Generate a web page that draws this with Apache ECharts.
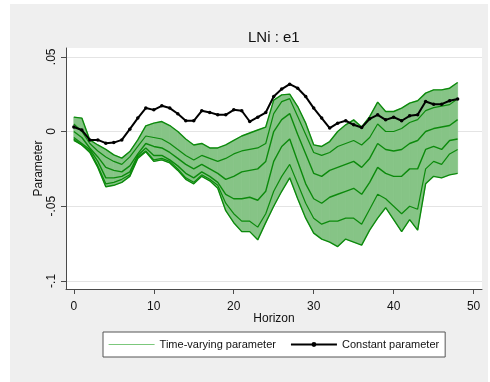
<!DOCTYPE html>
<html><head><meta charset="utf-8">
<script src="https://cdn.jsdelivr.net/npm/echarts@6/dist/echarts.min.js"></script>
<style>
html,body{margin:0;padding:0;background:#fff;}
#panel{position:absolute;left:10px;top:4px;width:478px;height:378px;background:#efefef;}
#c{position:absolute;left:0;top:0;width:490px;height:382px;}
</style>
</head><body><div id="panel"></div><div id="c"></div>
<script>
const titleText = 'LNi : e1';
const xTicks = [0, 10, 20, 30, 40, 50];
const yTicks = [-0.1, -0.05, 0, 0.05];
const yTickLabels = ['-.1', '-.05', '0', '.05'];
const horizon = [0,1,2,3,4,5,6,7,8,9,10,11,12,13,14,15,16,17,18,19,20,21,22,23,24,25,26,27,28,29,30,31,32,33,34,35,36,37,38,39,40,41,42,43,44,45,46,47,48];
const constantParam = [0.003,0.001,-0.0056,-0.0056,-0.0078,-0.0074,-0.0056,0.0016,0.009,0.0157,0.0145,0.0172,0.0157,0.0119,0.0072,0.0072,0.0139,0.0128,0.0112,0.0112,0.0145,0.0139,0.0067,0.0096,0.0127,0.0234,0.0284,0.0317,0.029,0.0234,0.0157,0.009,0.0023,0.0056,0.0072,0.0045,0.0027,0.0085,0.0112,0.0078,0.0096,0.0072,0.0105,0.0112,0.0201,0.0183,0.0183,0.0206,0.0217];
const upperEnv = [0.0096,0.009,-0.0056,-0.009,-0.012,-0.0156,-0.0178,-0.0134,-0.0056,0.0038,0.0056,0.0067,0.004,0.0,-0.005,-0.009,-0.008,-0.011,-0.011,-0.009,-0.006,-0.003,-0.001,0.001,0.003,0.021,0.0245,0.025,0.0167,0.0056,-0.0089,-0.01,-0.0067,0.0,0.0045,0.0078,0.003,0.01,0.0197,0.0134,0.0134,0.0157,0.019,0.0206,0.0257,0.0279,0.0279,0.029,0.0328];
const lowerEnv = [-0.006,-0.009,-0.014,-0.024,-0.037,-0.036,-0.034,-0.03,-0.018,-0.0135,-0.02,-0.019,-0.021,-0.026,-0.032,-0.035,-0.03,-0.033,-0.038,-0.053,-0.061,-0.067,-0.067,-0.0725,-0.061,-0.05,-0.04,-0.031,-0.045,-0.058,-0.068,-0.072,-0.074,-0.077,-0.072,-0.074,-0.076,-0.066,-0.058,-0.051,-0.059,-0.067,-0.059,-0.066,-0.035,-0.03,-0.031,-0.029,-0.028];
const traceA = [0.005,0.0,-0.008,-0.013,-0.017,-0.02,-0.022,-0.017,-0.01,-0.003,-0.004,-0.005,-0.008,-0.012,-0.016,-0.019,-0.016,-0.018,-0.02,-0.018,-0.015,-0.013,-0.012,-0.011,-0.008,0.012,0.02,0.022,0.01,-0.002,-0.014,-0.016,-0.014,-0.01,-0.008,-0.006,-0.009,-0.004,0.005,0.0,0.0,0.002,0.006,0.008,0.014,0.016,0.017,0.018,0.022];
const traceB = [0.0,-0.004,-0.011,-0.017,-0.024,-0.026,-0.027,-0.023,-0.015,-0.008,-0.01,-0.011,-0.014,-0.018,-0.022,-0.025,-0.022,-0.025,-0.028,-0.032,-0.03,-0.027,-0.026,-0.025,-0.02,0.0,0.008,0.012,-0.002,-0.015,-0.028,-0.03,-0.026,-0.024,-0.022,-0.02,-0.024,-0.018,-0.008,-0.012,-0.013,-0.012,-0.008,-0.006,0.0,0.002,0.003,0.004,0.008];
const traceC = [-0.004,-0.008,-0.012,-0.02,-0.031,-0.031,-0.03,-0.027,-0.016,-0.011,-0.016,-0.016,-0.019,-0.023,-0.028,-0.031,-0.027,-0.03,-0.034,-0.042,-0.045,-0.045,-0.044,-0.046,-0.04,-0.02,-0.01,-0.005,-0.02,-0.035,-0.045,-0.048,-0.044,-0.042,-0.04,-0.038,-0.042,-0.034,-0.024,-0.028,-0.03,-0.03,-0.025,-0.025,-0.012,-0.01,-0.012,-0.006,-0.005];
const traceD = [-0.005,-0.009,-0.013,-0.023,-0.035,-0.034,-0.032,-0.029,-0.017,-0.013,-0.019,-0.018,-0.02,-0.025,-0.031,-0.034,-0.029,-0.032,-0.036,-0.048,-0.055,-0.06,-0.06,-0.064,-0.055,-0.04,-0.03,-0.022,-0.035,-0.048,-0.058,-0.062,-0.06,-0.06,-0.058,-0.058,-0.062,-0.052,-0.042,-0.045,-0.05,-0.055,-0.05,-0.052,-0.025,-0.02,-0.022,-0.015,-0.012];

const FONT = "'Liberation Sans',Arial,sans-serif";
const TV = 'Time-varying parameter';
const CP = 'Constant parameter';
const DARK = '#0c8a0c';
const FILL = '#86c486';
const pairs = arr => horizon.map((h, i) => [h, arr[i]]);

function greenLine(arr, w) {
  return {name: TV, type: 'line', data: pairs(arr), symbol: 'none', silent: true,
    lineStyle: {color: DARK, width: w}, itemStyle: {color: DARK}, z: 3};
}

const chart = echarts.init(document.getElementById('c'), null, {renderer: 'canvas'});
chart.setOption({
  animation: false,
  title: {text: titleText, left: 243, top: 25, textStyle: {fontFamily: FONT, fontSize: 15, fontWeight: 'normal', color: '#111'}},
  grid: {left: 66, right: 8, top: 48, bottom: 93, show: true, backgroundColor: '#fff', borderWidth: 0},
  xAxis: {type: 'value', min: -0.98, max: 51.05,
    name: 'Horizon', nameLocation: 'middle', nameGap: 24, nameMoveOverlap: false,
    nameTextStyle: {fontFamily: FONT, fontSize: 12, color: '#111'},
    axisLine: {show: true, onZero: false, lineStyle: {color: '#4a4a4a', width: 1}},
    axisTick: {show: true, length: 5, customValues: xTicks, lineStyle: {color: '#4a4a4a'}},
    axisLabel: {customValues: xTicks, margin: 12, fontFamily: FONT, fontSize: 12, color: '#111'},
    splitLine: {show: false}},
  yAxis: {type: 'value', min: -0.1054, max: 0.0559,
    name: 'Parameter', nameLocation: 'middle', nameGap: 21, nameRotate: 90, nameMoveOverlap: false,
    nameTextStyle: {fontFamily: FONT, fontSize: 12, color: '#111'},
    axisLine: {show: true, onZero: false, lineStyle: {color: '#4a4a4a', width: 1}},
    axisTick: {show: true, length: 5, customValues: yTicks, lineStyle: {color: '#4a4a4a'}},
    axisLabel: {customValues: yTicks, rotate: 90, margin: 8, fontFamily: FONT, fontSize: 12, color: '#111',
      formatter: v => { const i = yTicks.findIndex(t => Math.abs(t - v) < 1e-9); return i >= 0 ? yTickLabels[i] : ''; }},
    splitLine: {show: true, lineStyle: {color: '#e4e4e4', width: 1}}},
  legend: {left: 103, top: 332, padding: [7, 6, 7, 5], itemGap: 14, itemWidth: 46, itemHeight: 6,
    backgroundColor: '#fff', borderColor: '#555', borderWidth: 1, borderRadius: 0,
    textStyle: {fontFamily: FONT, fontSize: 11, color: '#111'},
    data: [{name: TV, lineStyle: {color: '#7cc87c', width: 1.2, opacity: 1}, itemStyle: {color: 'rgba(0,0,0,0)', borderWidth: 0}},
           {name: CP}]},
  series: [
    {name: 'band', type: 'custom', silent: true, z: 1,
      data: horizon.map((h, i) => [h, lowerEnv[i], upperEnv[i]]),
      encode: {x: 0, y: [1, 2]},
      renderItem: (params, api) => {
        const k = params.dataIndexInside;
        if (k >= horizon.length - 1) return null;
        const a = api.coord([api.value(0, k), api.value(1, k)]);
        const b = api.coord([api.value(0, k + 1), api.value(1, k + 1)]);
        const c = api.coord([api.value(0, k + 1), api.value(2, k + 1)]);
        const d = api.coord([api.value(0, k), api.value(2, k)]);
        return {type: 'polygon', shape: {points: [a, b, c, d]},
          style: {fill: FILL, stroke: FILL, lineWidth: 0.8}};
      }},
    greenLine(upperEnv, 1.4),
    greenLine(lowerEnv, 1.4),
    greenLine(traceA, 1.2),
    greenLine(traceB, 1.4),
    greenLine(traceC, 1.4),
    greenLine(traceD, 1.2),
    {name: CP, type: 'line', data: pairs(constantParam), symbol: 'circle', symbolSize: 3.5, showSymbol: true,
      lineStyle: {color: '#000', width: 2}, itemStyle: {color: '#000'}, z: 5}
  ]
});
</script>
</body></html>
